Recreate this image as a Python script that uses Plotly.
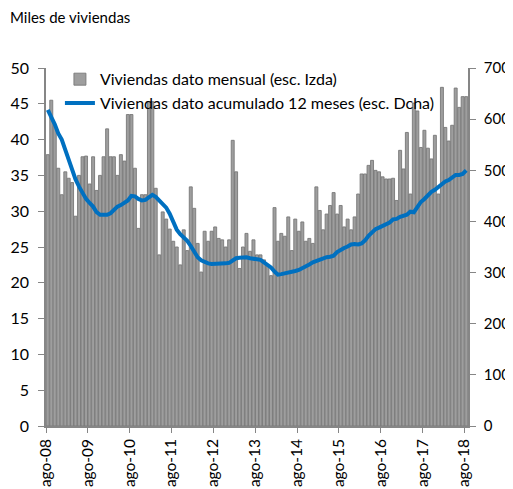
import plotly.graph_objects as go
import pandas as pd

# Monthly housing data, ago-08 .. ago-18
months = pd.date_range("2008-08-01", "2018-08-01", freq="MS")

mensual = [
    37.9, 45.5, 42.0, 36.0, 32.3, 35.5, 34.6, 34.0, 29.3, 35.0, 37.6, 37.7,
    33.8, 37.6, 32.9, 35.0, 37.6, 41.5, 37.6, 37.6, 35.0, 37.9, 37.0, 43.5,
    43.5, 36.0, 27.6, 32.3, 32.3, 45.3, 45.3, 33.2, 23.9, 29.9, 28.9, 27.5,
    25.8, 25.0, 22.5, 27.4, 24.5, 33.4, 30.4, 25.5, 21.5, 27.2, 25.8, 27.2,
    27.8, 26.2, 26.0, 25.0, 26.0, 39.9, 35.5, 22.0, 25.0, 26.9, 24.4, 26.0,
    23.9, 23.9, 23.2, 22.5, 21.0, 30.5, 25.8, 26.9, 26.5, 29.2, 24.5, 28.9,
    27.2, 28.5, 25.8, 26.2, 25.5, 33.4, 30.1, 27.4, 29.6, 30.8, 32.6, 29.6,
    30.8, 27.8, 28.9, 27.4, 29.2, 32.4, 35.2, 35.2, 36.4, 37.1, 35.7, 35.5,
    34.8, 34.5, 34.5, 34.6, 31.5, 38.5, 35.9, 41.0, 32.4, 45.1, 44.0, 38.9,
    41.3, 38.8, 37.3, 40.6, 32.4, 47.3, 41.7, 39.8, 42.0, 47.2, 44.5, 46.0,
    46.0,
]

acumulado = [
    618, 605, 590, 572, 560, 540, 520, 498, 482, 468, 455, 444,
    436, 429, 418, 413, 413, 413, 416, 423, 429, 432, 436, 441,
    450, 449, 444, 441, 442, 448, 452, 448, 440, 434, 427, 415,
    400, 384, 375, 368, 362, 352, 340, 330, 324, 320, 318, 317,
    317, 317, 317, 318, 319, 324, 328, 329, 330, 330, 328, 326,
    326, 325, 320, 315, 310, 302, 296, 297, 298, 299, 301, 303,
    305, 308, 312, 316, 320, 323, 325, 328, 330, 331, 333, 340,
    345, 348, 351, 355, 356, 355, 357, 363, 372, 379, 385, 388,
    391, 395, 398, 404, 405, 409, 411, 413, 419, 418, 428, 438,
    444, 451, 458, 462, 468, 473, 478, 481, 486, 491, 491, 493,
    500,
]

tick_dates = pd.date_range("2008-08-01", "2018-08-01", freq="12MS")
tick_labels = ["ago-08", "ago-09", "ago-10", "ago-11", "ago-12", "ago-13",
               "ago-14", "ago-15", "ago-16", "ago-17", "ago-18"]

FONT = "Lato"
AXC = "#868686"
W, H = 505, 481           # page body has an 8px margin
L, R, T, B = 38, 45, 60, 63
PW, PH = W - L - R, H - T - B

fig = go.Figure()
fig.add_trace(go.Bar(
    x=months, y=mensual, name="Viviendas dato mensual (esc. Izda)",
    xperiod="M1", xperiodalignment="middle",
    marker=dict(color="#9e9e9e", line=dict(color="#787878", width=0.9)),
    legendgroup="a",
))
fig.add_trace(go.Scatter(
    x=months, y=acumulado, name="Viviendas dato acumulado 12 meses (esc. Dcha)",
    xperiod="M1", xperiodalignment="middle",
    mode="lines", line=dict(color="#0070c0", width=4),
    yaxis="y2", legendgroup="b",
))

fig.update_layout(
    width=W, height=H,
    margin=dict(l=L, r=R, t=T, b=B, autoexpand=False),
    paper_bgcolor="white", plot_bgcolor="white",
    font=dict(family=FONT, size=15, color="black"),
    bargap=0.12,
    showlegend=True,
    legend=dict(x=0.033, y=1.016, xanchor="left", yanchor="top",
                bgcolor="rgba(0,0,0,0)", font=dict(size=16, family=FONT),
                traceorder="grouped", tracegroupgap=0, itemwidth=30),
    xaxis=dict(
        range=[months[0], pd.Timestamp("2018-09-01")],
        tickvals=tick_dates, ticktext=tick_labels, tickangle=-90,
        showline=True, linecolor=AXC, linewidth=1.5,
        ticks="outside", ticklen=5, tickcolor=AXC,
        showgrid=False, zeroline=False, automargin=False,
        tickfont=dict(size=15.5, family=FONT),
    ),
    yaxis=dict(
        range=[0, 50], dtick=5, showline=True, linecolor=AXC, linewidth=1.5,
        ticks="outside", ticklen=6, tickcolor=AXC, showgrid=False,
        zeroline=False, tickfont=dict(size=16, family=FONT),
        ticklabelstandoff=6, automargin=False,
    ),
    yaxis2=dict(
        range=[0, 700], dtick=100, overlaying="y", side="right",
        showline=True, linecolor=AXC, linewidth=1.5,
        ticks="outside", ticklen=6, tickcolor=AXC, showgrid=False,
        zeroline=False, tickfont=dict(size=15, family=FONT),
        ticklabelstandoff=5, automargin=False,
    ),
    annotations=[dict(text="Miles de viviendas",
                      x=(0 - L) / PW, y=(H - B - 9) / PH,
                      xref="paper", yref="paper", showarrow=False,
                      xanchor="left", yanchor="middle",
                      font=dict(size=15, family=FONT))],
)

fig.write_html("out.html")
